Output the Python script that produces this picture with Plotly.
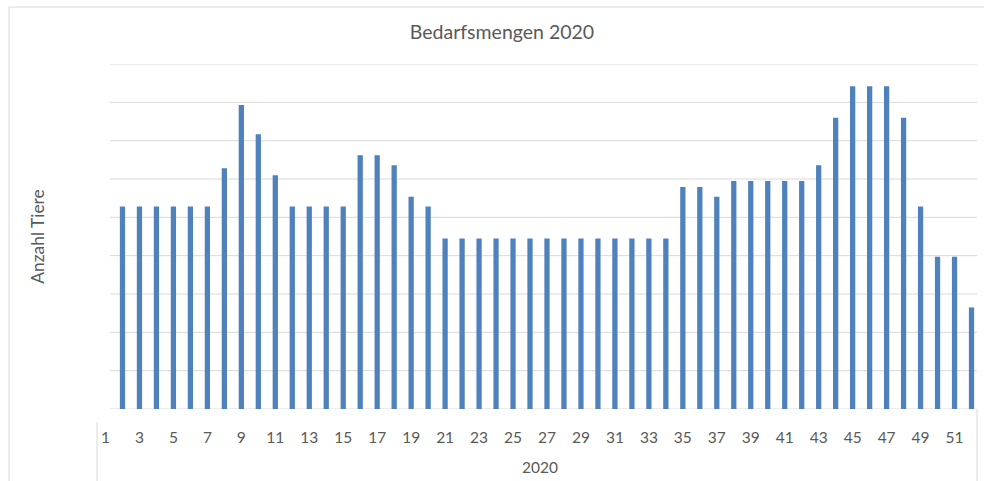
import plotly.graph_objects as go

weeks = [str(i) for i in range(1, 53)]
values = [None,
          52.8, 52.8, 52.8, 52.8, 52.8, 52.8,   # 2-7
          62.8, 79.3, 71.7, 61.0,               # 8-11
          52.8, 52.8, 52.8, 52.8,               # 12-15
          66.2, 66.2, 63.6, 55.4, 52.8,         # 16-20
          44.5, 44.5, 44.5, 44.5, 44.5, 44.5, 44.5,  # 21-27
          44.5, 44.5, 44.5, 44.5, 44.5, 44.5, 44.5,  # 28-34
          57.9, 57.9, 55.4,                     # 35-37
          59.5, 59.5, 59.5, 59.5, 59.5,         # 38-42
          63.6, 76.0, 84.2, 84.2, 84.2, 76.0,   # 43-48
          52.8, 39.7, 39.7, 26.5]               # 49-52
tick_labels = [w for w in weeks if int(w) % 2 == 1]
grid_values = [10 * i for i in range(0, 10)]
group_label = "2020"
title_text = "Bedarfsmengen 2020"
y_title = "Anzahl Tiere"

FONT = "Lato, sans-serif"
GREY = "#595959"
GRID = "#D9D9D9"

W, H = 984, 481
L, R, T, B = 97, 4, 64, 72
pw = W - L - R
ph = H - T - B

fig = go.Figure(go.Bar(x=weeks, y=values, marker_color="#4F81BD",
                       marker_line_width=0))

shapes = []
for g in grid_values:
    shapes.append(dict(type="line", xref="paper", yref="y",
                       x0=(110 - L) / pw, x1=(977 - L) / pw, y0=g, y1=g,
                       line=dict(color=GRID, width=1), layer="below"))
# category bracket lines
shapes.append(dict(type="line", xref="paper", yref="paper",
                   x0=0, x1=0, y0=-(422 - 409) / ph, y1=-(H - 409) / ph,
                   line=dict(color=GRID, width=1)))
shapes.append(dict(type="line", xref="paper", yref="paper",
                   x0=(977 - L) / pw, x1=(977 - L) / pw, y0=0, y1=-(H - 409) / ph,
                   line=dict(color=GRID, width=1)))
# chart area border
shapes.append(dict(type="rect", xref="paper", yref="paper",
                   x0=-(L - 9) / pw, x1=(W - L + 10) / pw,
                   y0=-(H - T + 10) / ph, y1=1 + (T - 7) / ph,
                   line=dict(color=GRID, width=1), fillcolor="rgba(0,0,0,0)"))

fig.update_layout(
    width=W, height=H,
    margin=dict(l=L, r=R, t=T, b=B),
    paper_bgcolor="white", plot_bgcolor="white",
    showlegend=False,
    bargap=0.69,
    title=dict(text=title_text, x=502 / W, xanchor="center", xref="container",
               y=1 - 32 / H, yanchor="middle",
               font=dict(family=FONT, size=19.5, color=GREY)),
    font=dict(family=FONT, color=GREY),
    xaxis=dict(type="category", categoryorder="array", categoryarray=weeks,
               tickmode="array", tickvals=tick_labels, ticktext=tick_labels,
               showgrid=False, showline=False, zeroline=False, ticks="",
               ticklabelstandoff=17,
               tickfont=dict(family=FONT, size=15.5, color=GREY)),
    yaxis=dict(range=[0, 90], showgrid=False, zeroline=False, showline=False,
               showticklabels=False, ticks=""),
    shapes=shapes,
    annotations=[
        dict(text=group_label, xref="paper", yref="paper",
             x=(540 - L) / pw, y=-(467 - 409) / ph,
             xanchor="center", yanchor="middle", showarrow=False,
             font=dict(family=FONT, size=15.5, color=GREY)),
        dict(text=y_title, xref="paper", yref="paper",
             x=-(L - 38) / pw, y=(409 - 236.7) / ph, textangle=-90,
             xanchor="center", yanchor="middle", showarrow=False,
             font=dict(family=FONT, size=17.4, color=GREY)),
    ],
)

fig.write_html("out.html", config={"displayModeBar": False},
               post_script="document.body.style.margin='0';")
